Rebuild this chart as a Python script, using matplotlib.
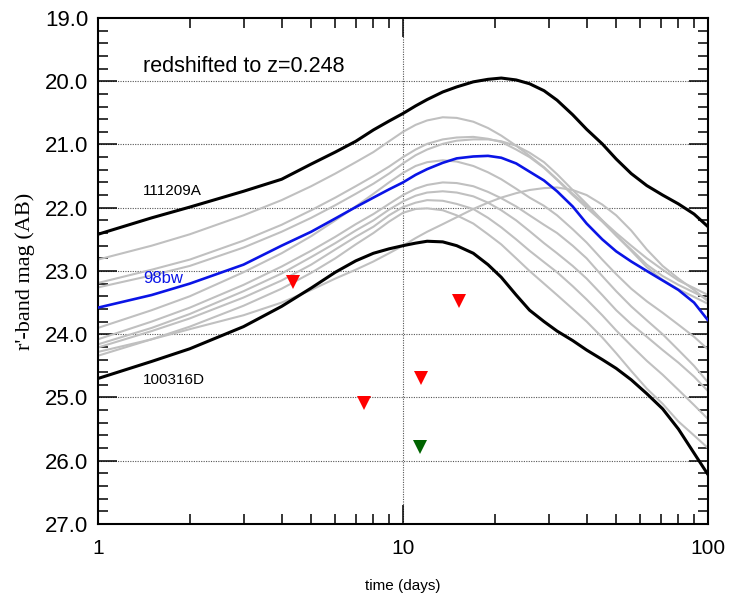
import matplotlib
matplotlib.use("Agg")
import matplotlib.pyplot as plt
from matplotlib.ticker import FixedLocator, NullFormatter, MultipleLocator

# ---- data -------------------------------------------------------------
T = [1, 1.5, 2, 3, 4, 5, 6, 7, 8, 9, 10, 11, 12, 13.5, 15, 17, 19, 21, 23.5, 26,
     29, 32, 36, 40, 45, 50, 56, 63, 71, 80, 90, 100]

grb111209A = [22.42, 22.16, 21.99, 21.74, 21.55, 21.31, 21.12, 20.95, 20.77, 20.63, 20.51,
              20.39, 20.29, 20.17, 20.09, 20.01, 19.97, 19.95, 19.98, 20.04, 20.15, 20.30,
              20.53, 20.76, 20.99, 21.23, 21.46, 21.65, 21.80, 21.94, 22.10, 22.30]
grb100316D = [24.70, 24.43, 24.23, 23.88, 23.56, 23.27, 23.02, 22.84, 22.72, 22.65, 22.60,
              22.56, 22.53, 22.54, 22.60, 22.72, 22.90, 23.10, 23.38, 23.62, 23.80, 23.95,
              24.10, 24.25, 24.40, 24.54, 24.72, 24.94, 25.18, 25.50, 25.88, 26.22]
sn98bw = [23.58, 23.38, 23.20, 22.90, 22.60, 22.38, 22.17, 21.99, 21.84, 21.71, 21.60,
          21.48, 21.39, 21.29, 21.22, 21.19, 21.18, 21.21, 21.30, 21.43, 21.57, 21.74,
          21.98, 22.25, 22.50, 22.69, 22.85, 23.00, 23.15, 23.30, 23.50, 23.78]

gray_a = [22.82, 22.60, 22.42, 22.12, 21.88, 21.66, 21.46, 21.28, 21.12, 20.95, 20.80,
          20.69, 20.62, 20.57, 20.58, 20.64, 20.74, 20.86, 21.02, 21.18, 21.36, 21.55,
          21.78, 21.97, 22.20, 22.40, 22.60, 22.80, 22.98, 23.15, 23.27, 23.38]
gray_b = [23.19, 22.98, 22.82, 22.52, 22.27, 22.04, 21.84, 21.66, 21.50, 21.35, 21.20,
          21.08, 20.99, 20.92, 20.89, 20.88, 20.91, 20.96, 21.08, 21.20, 21.37, 21.56,
          21.80, 22.00, 22.22, 22.44, 22.66, 22.90, 23.08, 23.22, 23.34, 23.45]
gray_c = [23.26, 23.07, 22.92, 22.63, 22.38, 22.16, 21.96, 21.78, 21.62, 21.46, 21.30,
          21.17, 21.08, 20.99, 20.94, 20.92, 20.92, 20.95, 21.02, 21.13, 21.28, 21.47,
          21.72, 21.94, 22.20, 22.44, 22.68, 22.94, 23.14, 23.29, 23.41, 23.52]
gray_d = [23.90, 23.62, 23.40, 23.02, 22.72, 22.45, 22.20, 21.98, 21.78, 21.60, 21.45,
          21.34, 21.28, 21.25, 21.27, 21.34, 21.44, 21.55, 21.70, 21.84, 21.97, 22.12,
          22.34, 22.55, 22.82, 23.05, 23.28, 23.48, 23.66, 23.85, 24.04, 24.24]
gray_e = [24.08, 23.80, 23.58, 23.22, 22.93, 22.68, 22.46, 22.26, 22.10, 21.94, 21.80,
          21.70, 21.64, 21.60, 21.61, 21.66, 21.75, 21.85, 21.98, 22.12, 22.27, 22.40,
          22.60, 22.80, 23.08, 23.32, 23.56, 23.78, 24.00, 24.25, 24.50, 24.76]
gray_f = [24.16, 23.90, 23.68, 23.32, 23.04, 22.78, 22.56, 22.36, 22.20, 22.03, 21.90,
          21.81, 21.76, 21.74, 21.76, 21.82, 21.92, 22.04, 22.20, 22.37, 22.56, 22.72,
          22.92, 23.12, 23.38, 23.62, 23.84, 24.04, 24.25, 24.45, 24.67, 24.90]
gray_g = [24.21, 23.95, 23.75, 23.42, 23.15, 22.90, 22.66, 22.46, 22.30, 22.12, 21.99,
          21.92, 21.88, 21.89, 21.94, 22.02, 22.16, 22.31, 22.50, 22.68, 22.86, 23.02,
          23.24, 23.45, 23.70, 23.94, 24.18, 24.42, 24.64, 24.88, 25.12, 25.34]
gray_h = [24.34, 24.08, 23.88, 23.55, 23.28, 23.03, 22.80, 22.58, 22.40, 22.22, 22.08,
          22.02, 22.01, 22.04, 22.12, 22.25, 22.42, 22.58, 22.80, 23.00, 23.20, 23.38,
          23.60, 23.80, 24.05, 24.30, 24.58, 24.86, 25.10, 25.38, 25.60, 25.80]
gray_late = [24.28, 24.08, 23.92, 23.70, 23.50, 23.30, 23.12, 22.98, 22.85, 22.72, 22.60,
             22.48, 22.38, 22.26, 22.15, 22.02, 21.92, 21.84, 21.77, 21.72, 21.69, 21.68,
             21.72, 21.80, 21.95, 22.12, 22.36, 22.66, 22.92, 23.12, 23.30, 23.48]

red_t = [4.36, 7.45, 11.42, 15.27]
red_mag = [23.18, 25.08, 24.69, 23.48]
green_t = [11.37]
green_mag = [25.79]

yticks = [19, 20, 21, 22, 23, 24, 25, 26, 27]
xticks = [1, 10, 100]
xticklabels = ["1", "10", "100"]

# ---- plot -------------------------------------------------------------
sans = ["Liberation Sans", "DejaVu Sans"]
serif = ["Liberation Serif", "DejaVu Serif"]

fig = plt.figure(figsize=(7.29, 5.93), dpi=100)
ax = fig.add_axes([0.1344, 0.1164, 0.8368, 0.8533])

ax.set_xscale("log")
ax.set_xlim(1, 100)
ax.set_ylim(27, 19)

grid_kw = dict(color="#555555", linewidth=0.8, linestyle=(0, (1, 1.2)), zorder=1)
for y in yticks[1:-1]:
    ax.axhline(y, **grid_kw)
ax.axvline(10, **grid_kw)

line_kw = dict(solid_joinstyle="round", solid_capstyle="round")
for g in [gray_a, gray_b, gray_c, gray_d, gray_e, gray_f, gray_g, gray_h, gray_late]:
    ax.plot(T, g, color="#c0c0c0", linewidth=1.5, zorder=2, **line_kw)
ax.plot(T, sn98bw, color="#0a14e6", linewidth=1.9, zorder=3, **line_kw)
ax.plot(T, grb111209A, color="black", linewidth=2.2, zorder=4, **line_kw)
ax.plot(T, grb100316D, color="black", linewidth=2.2, zorder=4, **line_kw)

ax.plot(red_t, red_mag, linestyle="none", marker="v", markersize=10,
        color="#ff0000", markeredgewidth=0, zorder=5)
ax.plot(green_t, green_mag, linestyle="none", marker="v", markersize=10,
        color="#006400", markeredgewidth=0, zorder=5)

ax.text(0.074, 0.905, "redshifted to z=0.248", transform=ax.transAxes,
        fontsize=15.5, family=sans, va="center", ha="left")
ax.text(0.074, 0.658, "111209A", transform=ax.transAxes,
        fontsize=11, family=sans, va="center", ha="left")
ax.text(0.074, 0.486, "98bw", transform=ax.transAxes,
        fontsize=12, family=sans, va="center", ha="left", color="#0a14e6")
ax.text(0.074, 0.2846, "100316D", transform=ax.transAxes,
        fontsize=11, family=sans, va="center", ha="left")

# ticks
ax.yaxis.set_major_locator(FixedLocator(yticks))
ax.set_yticklabels([f"{v:.1f}" for v in yticks], family=sans, fontsize=16)
ax.yaxis.set_minor_locator(MultipleLocator(0.2))
ax.xaxis.set_major_locator(FixedLocator(xticks))
ax.set_xticklabels(xticklabels, family=sans, fontsize=15)
ax.xaxis.set_minor_locator(FixedLocator([2, 3, 4, 5, 6, 7, 8, 9, 20, 30, 40, 50, 60, 70, 80, 90]))
ax.xaxis.set_minor_formatter(NullFormatter())

ax.tick_params(which="major", direction="in", length=13.5, width=1.1,
               top=True, right=True)
ax.tick_params(which="minor", direction="in", length=7, width=1.1,
               top=True, right=True)
ax.tick_params(axis="y", which="major", pad=7, labelsize=16)
ax.tick_params(axis="x", which="major", pad=11, labelsize=15)

for s in ax.spines.values():
    s.set_linewidth(1.5)

ax.set_xlabel("time (days)", family=sans, fontsize=11, labelpad=15)
ax.set_ylabel("r'-band mag (AB)", family=serif, fontsize=16, labelpad=7)

fig.savefig("out.png", dpi=100)
